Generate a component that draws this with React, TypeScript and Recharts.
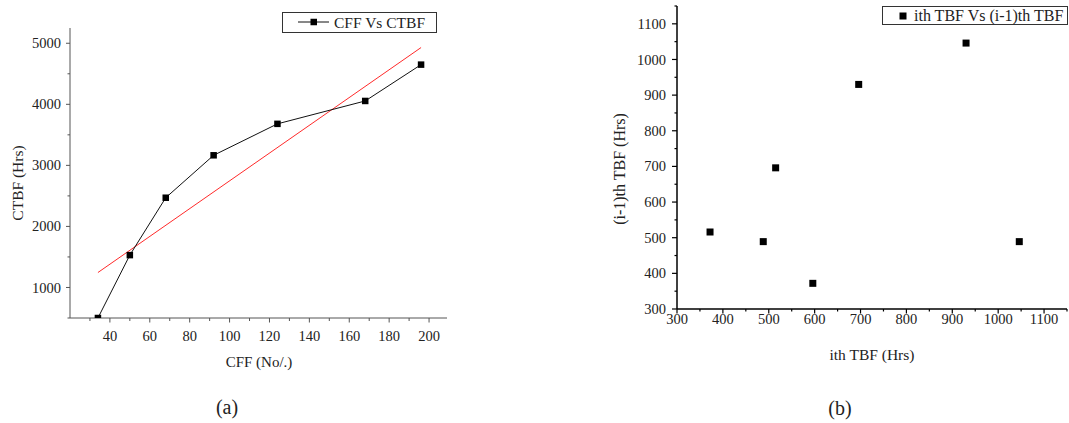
import { Scatter, ScatterChart, XAxis, YAxis } from 'recharts';

// (a) cumulative failures vs cumulative time between failures
const cff = [34, 50, 68, 92, 124, 168, 196];
const ctbf = [500, 1530, 2470, 3165, 3680, 4055, 4650];
// straight red trend line, two ends
const fitCff = [34, 196];
const fitCtbf = [1245, 4930];

// (b) lag plot of TBF
const ithTbf = [372, 488, 515, 596, 696, 930, 1046];
const prevTbf = [516, 489, 696, 372, 930, 1046, 489];

const ticksCff = [30, 40, 50, 60, 70, 80, 90, 100, 110, 120, 130, 140, 150, 160, 170, 180, 190, 200];
const ticksCtbf = [500, 1000, 1500, 2000, 2500, 3000, 3500, 4000, 4500, 5000];
const ticksTbf = [300, 350, 400, 450, 500, 550, 600, 650, 700, 750, 800, 850, 900, 950, 1000, 1050, 1100, 1150];

const SERIF = '"Liberation Serif", "Times New Roman", serif';

const dataA = cff.map((x, i) => ({ x, y: ctbf[i] }));
const fitA = fitCff.map((x, i) => ({ x, y: fitCtbf[i] }));
const dataB = ithTbf.map((x, i) => ({ x, y: prevTbf[i] }));

type TickOpts = {
  side: 'bottom' | 'left';
  every: number;
  major: number;
  minor: number;
  gap: number;
  stroke: string;
  width: number;
};

function makeTick(o: TickOpts) {
  return (props: any) => {
    const { x, y, payload } = props;
    const v = payload.value as number;
    const big = v % o.every === 0;
    const len = big ? o.major : o.minor;
    if (o.side === 'bottom') {
      return (
        <g>
          <line x1={x} x2={x} y1={y} y2={y + len} stroke={o.stroke} strokeWidth={o.width} />
          {big && (
            <text x={x} y={y + o.gap} dy="0.71em" textAnchor="middle" fontFamily={SERIF} fontSize={14.5} fill="#222">
              {v}
            </text>
          )}
        </g>
      );
    }
    return (
      <g>
        <line x1={x - len} x2={x} y1={y} y2={y} stroke={o.stroke} strokeWidth={o.width} />
        {big && (
          <text x={x - o.gap} y={y} dy="0.35em" textAnchor="end" fontFamily={SERIF} fontSize={14.5} fill="#222">
            {v}
          </text>
        )}
      </g>
    );
  };
}

const square = (size: number) => (p: any) =>
  <rect x={p.cx - size / 2} y={p.cy - size / 2} width={size} height={size} fill="#000" />;

function Txt({ x, y, size, rotate, anchor, children }: { x: number; y: number; size: number; rotate?: boolean; anchor?: 'left'; children: any }) {
  const tx = anchor === 'left' ? '0' : '-50%';
  return (
    <div
      style={{
        position: 'absolute', left: x, top: y, whiteSpace: 'nowrap',
        transform: `translate(${tx}, -50%)${rotate ? ' rotate(-90deg)' : ''}`,
        fontFamily: SERIF, fontSize: size, color: '#222', lineHeight: 1,
      }}
    >
      {children}
    </div>
  );
}

export default function App() {
  const axisA = { stroke: '#555', strokeWidth: 1 };
  const axisB = { stroke: '#000', strokeWidth: 1.5 };
  return (
    <div style={{ position: 'absolute', left: 0, top: 0, width: 1069, height: 423, background: '#fff', overflow: 'hidden' }}>
      <div style={{ position: 'absolute', left: 0, top: 0 }}>
        <ScatterChart width={460} height={423} margin={{ top: 28, right: 13, bottom: 75, left: 10 }}>
          <XAxis
            type="number" dataKey="x" domain={[20, 209]} ticks={ticksCff} interval={0}
            allowDataOverflow height={30} tickSize={0} tickMargin={0} axisLine={axisA} tickLine={false}
            tick={makeTick({ side: 'bottom', every: 20, major: 4.5, minor: 3, gap: 13, stroke: '#555', width: 1 })}
          />
          <YAxis
            type="number" dataKey="y" domain={[500, 5250]} ticks={ticksCtbf} interval={0}
            allowDataOverflow width={60} tickSize={0} tickMargin={0} axisLine={axisA} tickLine={false}
            tick={makeTick({ side: 'left', every: 1000, major: 4, minor: 2.5, gap: 9, stroke: '#555', width: 1 })}
          />
          <Scatter
            data={fitA} isAnimationActive={false}
            line={{ stroke: '#ff2a2a', strokeWidth: 1 }} shape={() => <g />}
          />
          <Scatter
            data={dataA} isAnimationActive={false}
            line={{ stroke: '#111', strokeWidth: 1 }} shape={square(6.5)}
          />
        </ScatterChart>
      </div>

      <div style={{ position: 'absolute', left: 560, top: 0 }}>
        <ScatterChart width={509} height={423} margin={{ top: 6, right: 2, bottom: 84, left: 17 }}>
          <XAxis
            type="number" dataKey="x" domain={[300, 1150]} ticks={ticksTbf} interval={0}
            allowDataOverflow height={30} tickSize={0} tickMargin={0} axisLine={axisB} tickLine={false}
            tick={makeTick({ side: 'bottom', every: 100, major: 4.5, minor: 2.5, gap: 4.5, stroke: '#000', width: 1.2 })}
          />
          <YAxis
            type="number" dataKey="y" domain={[300, 1150]} ticks={ticksTbf} interval={0}
            allowDataOverflow width={100} tickSize={0} tickMargin={0} axisLine={axisB} tickLine={false}
            tick={makeTick({ side: 'left', every: 100, major: 5, minor: 2.5, gap: 11, stroke: '#000', width: 1.2 })}
          />
          <Scatter data={dataB} isAnimationActive={false} shape={square(7)} />
        </ScatterChart>
      </div>

      {/* legend (a) */}
      <div style={{ position: 'absolute', left: 282, top: 12, width: 155, height: 21, boxSizing: 'border-box', border: '1px solid #333' }} />
      <svg width={40} height={20} style={{ position: 'absolute', left: 295, top: 12 }}>
        <line x1={3} x2={34} y1={10} y2={10} stroke="#111" strokeWidth={1} />
        <rect x={15.5} y={6.75} width={6.5} height={6.5} fill="#000" />
      </svg>
      <Txt x={334} y={22.5} size={15.5} anchor="left">CFF Vs CTBF</Txt>

      {/* legend (b) */}
      <div style={{ position: 'absolute', left: 882, top: 6, width: 186, height: 19, boxSizing: 'border-box', border: '1px solid #333' }} />
      <svg width={12} height={12} style={{ position: 'absolute', left: 897, top: 9.5 }}>
        <rect x={2.5} y={2.5} width={7} height={7} fill="#000" />
      </svg>
      <Txt x={914} y={15.5} size={16} anchor="left">ith TBF Vs (i-1)th TBF</Txt>

      <Txt x={18} y={183} size={15.5} rotate>CTBF (Hrs)</Txt>
      <Txt x={259} y={362} size={15}>CFF (No/.)</Txt>
      <Txt x={227} y={407} size={20}>(a)</Txt>

      <Txt x={620} y={169} size={16} rotate>(i-1)th TBF (Hrs)</Txt>
      <Txt x={872} y={355} size={15.5}>ith TBF (Hrs)</Txt>
      <Txt x={840} y={408} size={20}>(b)</Txt>
    </div>
  );
}
